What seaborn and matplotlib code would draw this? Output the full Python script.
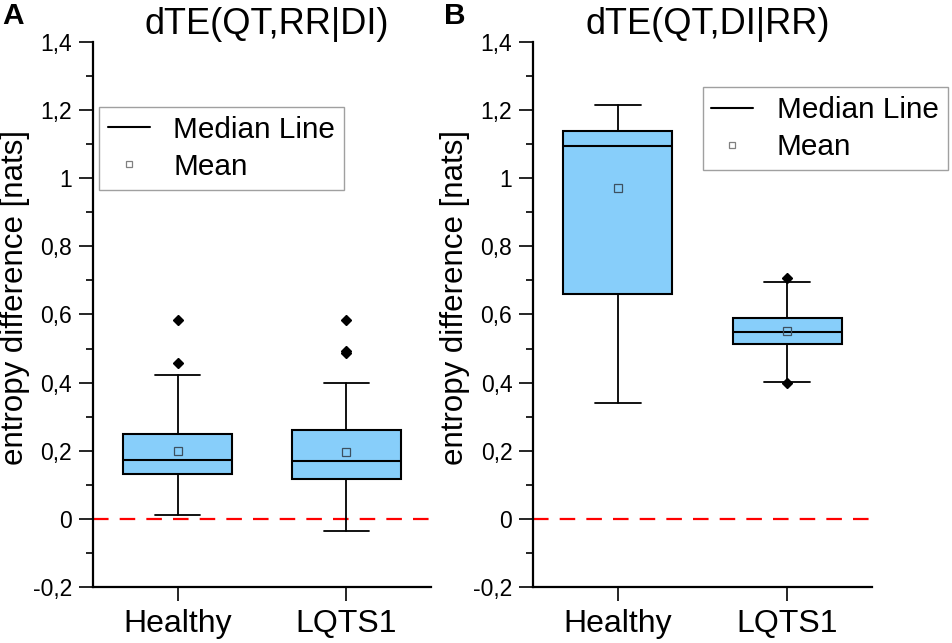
import numpy as np
import matplotlib
matplotlib.use("Agg")
import matplotlib.pyplot as plt
from matplotlib.lines import Line2D
from matplotlib.ticker import FuncFormatter, MultipleLocator
import seaborn as sns

# datos (resumen de cada caja)
grupos = ["Healthy", "LQTS1"]
titulos = ["dTE(QT,RR|DI)", "dTE(QT,DI|RR)"]
letras = ["A", "B"]

# panel A
q1_A = [0.131, 0.116]
med_A = [0.173, 0.169]
q3_A = [0.249, 0.262]
wlo_A = [0.011, -0.037]
whi_A = [0.423, 0.399]
mean_A = [0.199, 0.196]
out_A = [[0.585, 0.458], [0.584, 0.493, 0.487]]

# panel B
q1_B = [0.661, 0.514]
med_B = [1.094, 0.549]
q3_B = [1.138, 0.589]
wlo_B = [0.340, 0.401]
whi_B = [1.214, 0.696]
mean_B = [0.970, 0.553]
out_B = [[], [0.706, 0.398]]

paneles = [
    (q1_A, med_A, q3_A, wlo_A, whi_A, mean_A, out_A),
    (q1_B, med_B, q3_B, wlo_B, whi_B, mean_B, out_B),
]

sns.set_theme(style="ticks")
plt.rcParams['font.family'] = ['Liberation Sans', 'DejaVu Sans']
plt.rcParams['axes.unicode_minus'] = False
for clave in ['text.color', 'axes.labelcolor', 'xtick.color', 'ytick.color',
              'axes.edgecolor']:
    plt.rcParams[clave] = 'black'

fig = plt.figure(figsize=(9.52, 6.43), dpi=100)
ax_A = fig.add_axes([0.0977, 0.0871, 0.355, 0.8476])
ax_B = fig.add_axes([0.560, 0.0871, 0.356, 0.8476])
ejes = [ax_A, ax_B]

coma = FuncFormatter(lambda v, p: ('{:g}'.format(round(v, 1))).replace('.', ','))
leg_pos = [(0.018, 0.881), (0.50, 0.917)]

for k, ax in enumerate(ejes):
    q1, med, q3, wlo, whi, mu, outs = paneles[k]
    stats = []
    for i, g in enumerate(grupos):
        stats.append(dict(label=g, q1=q1[i], med=med[i], q3=q3[i],
                          whislo=wlo[i], whishi=whi[i], mean=mu[i],
                          fliers=np.array(outs[i])))
    ax.axhline(0, color='#ff0000', lw=1.6, ls=(0, (7, 5)), zorder=1)
    ax.bxp(stats, positions=[0, 1], widths=0.645, capwidths=0.27,
           patch_artist=True, showmeans=True,
           boxprops=dict(facecolor='#87cefa', edgecolor='black', linewidth=1.5),
           medianprops=dict(color='black', linewidth=1.5),
           whiskerprops=dict(color='black', linewidth=1.3),
           capprops=dict(color='black', linewidth=1.3),
           meanprops=dict(marker='s', markerfacecolor='none',
                          markeredgecolor='#3d5060', markersize=5.5,
                          markeredgewidth=0.9),
           flierprops=dict(marker='D', markerfacecolor='black',
                           markeredgecolor='black', markersize=5.5),
           zorder=3)
    ax.set_xlim(-0.5, 1.5)
    ax.set_ylim(-0.2, 1.4)
    ax.yaxis.set_major_locator(MultipleLocator(0.2))
    ax.yaxis.set_minor_locator(MultipleLocator(0.1))
    ax.yaxis.set_major_formatter(coma)
    ax.set_xticks([0, 1])
    ax.set_xticklabels(grupos, fontsize=23)
    ax.tick_params(axis='y', which='major', length=10, width=1.2,
                   labelsize=16.5, pad=5)
    ax.tick_params(axis='y', which='minor', length=5, width=1.2)
    ax.tick_params(axis='x', which='major', length=10, width=1.2, pad=6)
    sns.despine(ax=ax)
    for s in ['left', 'bottom']:
        ax.spines[s].set_linewidth(1.6)
    ax.set_ylabel('entropy difference [nats]', fontsize=22.5)
    ax.yaxis.set_label_coords(-0.185, 0.532)
    ax.set_title(titulos[k], fontsize=26, pad=3, x=0.515)
    ax.set_facecolor('white')

    manejadores = [
        Line2D([], [], color='black', lw=1.5),
        Line2D([], [], marker='s', ls='none', markerfacecolor='none',
               markeredgecolor='#808080', markersize=5, markeredgewidth=0.9),
    ]
    leg = ax.legend(manejadores, ['Median Line', 'Mean'], loc='upper left',
                    bbox_to_anchor=leg_pos[k], bbox_transform=ax.transAxes,
                    fontsize=21.4, frameon=True, fancybox=False, framealpha=1,
                    edgecolor='#a0a0a0', handlelength=1.4, handletextpad=0.8,
                    labelspacing=0.3, borderpad=0.3, borderaxespad=0)
    leg.get_frame().set_linewidth(1.0)

fig.text(0.002, 0.953, letras[0], fontsize=21.5, fontweight='bold', va='bottom')
fig.text(0.466, 0.953, letras[1], fontsize=21.5, fontweight='bold', va='bottom')

fig.savefig('out.png', dpi=100, facecolor='white')
